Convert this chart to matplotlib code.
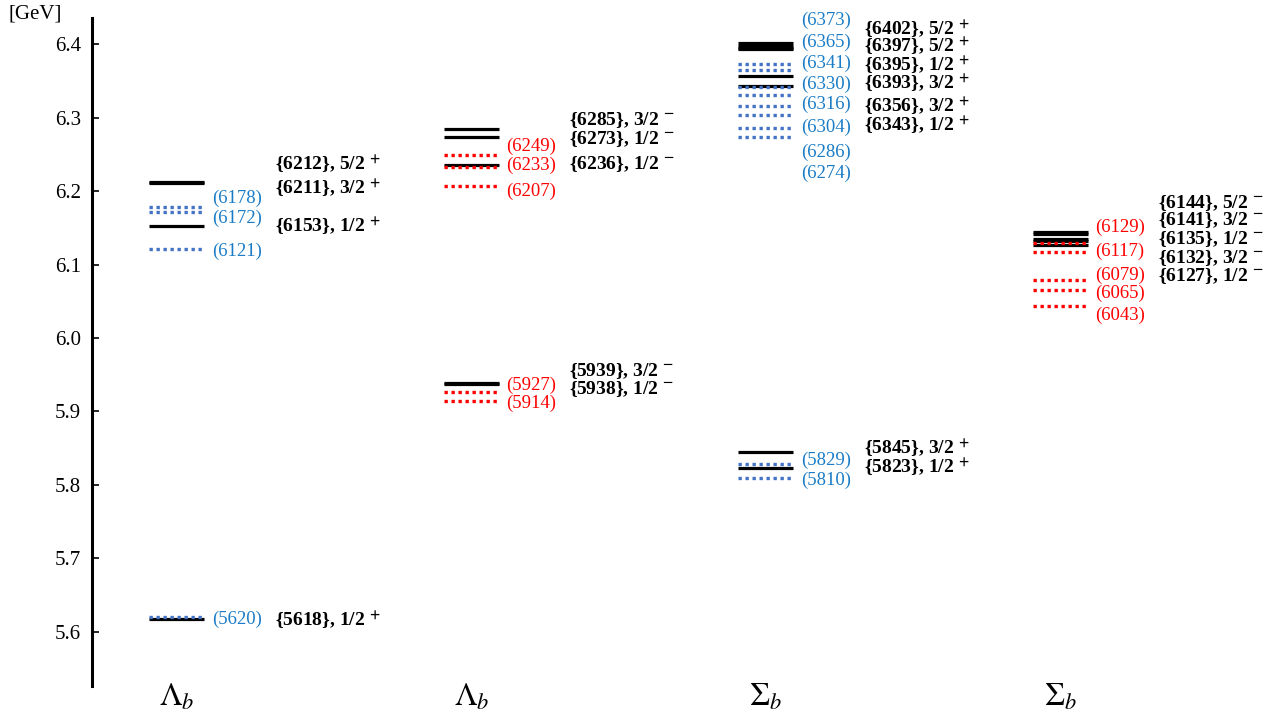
import matplotlib
matplotlib.use("Agg")
import matplotlib.pyplot as plt
from matplotlib.transforms import ScaledTranslation

plt.rcParams['mathtext.fontset'] = 'stix'
plt.rcParams['font.family'] = ['Liberation Serif', 'DejaVu Serif']

# ---- data ----
categories = [r'$\Lambda_b$', r'$\Lambda_b$', r'$\Sigma_b$', r'$\Sigma_b$']
exp_colors = ['blue', 'red', 'blue', 'red']

theory_g1 = [6212, 6211, 6153, 5618]
theory_g2 = [6285, 6273, 6236, 5939, 5938]
theory_g3 = [6402, 6397, 6395, 6393, 6356, 6343, 5845, 5823]
theory_g4 = [6144, 6141, 6135, 6132, 6127]
theory = [theory_g1, theory_g2, theory_g3, theory_g4]

jp_g1 = ['5/2+', '3/2+', '1/2+', '1/2+']
jp_g2 = ['3/2-', '1/2-', '1/2-', '3/2-', '1/2-']
jp_g3 = ['5/2+', '5/2+', '1/2+', '3/2+', '3/2+', '1/2+', '3/2+', '1/2+']
jp_g4 = ['5/2-', '3/2-', '1/2-', '3/2-', '1/2-']
jp = [jp_g1, jp_g2, jp_g3, jp_g4]

exp_g1 = [6178, 6172, 6121, 5620]
exp_g2 = [6249, 6233, 6207, 5927, 5914]
exp_g3 = [6373, 6365, 6341, 6330, 6316, 6304, 6286, 6274, 5829, 5810]
exp_g4 = [6129, 6117, 6079, 6065, 6043]
experiment = [exp_g1, exp_g2, exp_g3, exp_g4]

# ---- layout: label heights (GeV) to avoid overlap ----
th_label_y = [
    [6.2381, 6.2054, 6.1537, 5.6177],
    [6.2993, 6.2735, 6.2395, 5.9578, 5.9333],
    [6.4218, 6.3986, 6.3728, 6.3483, 6.3170, 6.2912, 5.8517, 5.8259],
    [6.1857, 6.1633, 6.1374, 6.1116, 6.0871],
]
exp_label_y = [
    [6.1905, 6.1633, 6.1184, 5.6177],
    [6.2605, 6.2354, 6.1993, 5.9360, 5.9116],
    [6.4327, 6.4027, 6.3742, 6.3456, 6.3184, 6.2871, 6.2531, 6.2245, 5.8340, 5.8068],
    [6.1510, 6.1184, 6.0857, 6.0612, 6.0313],
]

BLUE_LINE = '#4472C4'
BLUE_TEXT = '#1A7CC6'
RED = '#FF0000'

fig = plt.figure(figsize=(12.85, 7.17), dpi=100)
ax = fig.add_axes([92 / 1285, 1 - 686 / 717, 1 - 92 / 1285, (686 - 18) / 717])
ax.set_xlim(-0.288, 3.763)
ax.set_ylim(5.5265, 6.4354)

shift = ax.transData + ScaledTranslation(0, -7 / 100, fig.dpi_scale_trans)
half = 0.093
for i in range(4):
    for m in theory[i]:
        ax.plot([i - half, i + half], [m / 1000, m / 1000], color='black', lw=2.3,
                solid_capstyle='butt', zorder=2)
    lc = BLUE_LINE if exp_colors[i] == 'blue' else RED
    tc = BLUE_TEXT if exp_colors[i] == 'blue' else RED
    for m in experiment[i]:
        ax.plot([i - half, i + half], [m / 1000, m / 1000], color=lc, lw=2.4,
                linestyle=(0, (1, 1.1)), dash_capstyle='butt', zorder=3)
    for m, y in zip(experiment[i], exp_label_y[i]):
        ax.text(i + 0.119, y, f'({m})', color=tc, fontsize=13.5,
                ha='left', va='center')
    for m, s, y in zip(theory[i], jp[i], th_label_y[i]):
        sign = r'$^{\mathbf{+}}$' if s.endswith('+') else r'$^{\mathbf{-}}$'
        ax.text(i + 0.333, y, '{%d}, %s %s' % (m, s[:-1], sign), color='black',
                fontsize=14, fontweight='bold', ha='left', va='baseline',
                transform=shift)
    ax.text(i, -0.029, categories[i], transform=ax.get_xaxis_transform(),
            ha='center', va='baseline', fontsize=23)

for s in ['top', 'right', 'bottom']:
    ax.spines[s].set_visible(False)
ax.spines['left'].set_linewidth(2.2)
ax.set_xticks([])
ax.set_yticks([5.6, 5.7, 5.8, 5.9, 6.0, 6.1, 6.2, 6.3, 6.4])
ax.set_yticklabels(['5.6', '5.7', '5.8', '5.9', '6.0', '6.1', '6.2', '6.3', '6.4'])
ax.tick_params(axis='y', direction='in', length=5, width=1.2, labelsize=15, pad=8)

fig.text(8 / 1285, 1 - 14 / 717, '[GeV]', fontsize=15, ha='left', va='center')

fig.savefig('out.png', dpi=100)
